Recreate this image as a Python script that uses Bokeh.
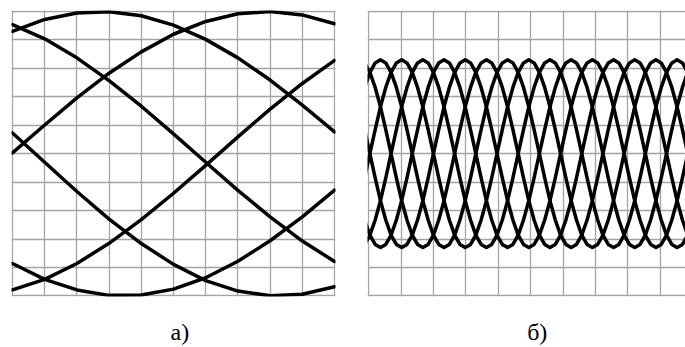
from bokeh.plotting import figure
from bokeh.layouts import row
from bokeh.models import FixedTicker, Grid, LinearAxis
from bokeh.embed import file_html
from bokeh.resources import INLINE

# ---------------- data ----------------
GRID_TICKS = [0, 1, 2, 3, 4, 5, 6, 7, 8, 9, 10]
PANEL_LABELS = ["а)", "б)"]
LABEL_POS = [5.2, 5.2]

# panel а): six gentle arcs, sampled at every grid column
X_A = [0, 1, 2, 3, 4, 5, 6, 7, 8, 9, 10]
A1 = [9.30, 9.72, 9.95, 9.99, 9.85, 9.52, 9.02, 8.37, 7.59, 6.71, 5.77]
A2 = [5.03, 6.01, 6.96, 7.83, 8.58, 9.20, 9.65, 9.92, 10.00, 9.88, 9.57]
A3 = [9.54, 9.04, 8.37, 7.57, 6.67, 5.70, 4.70, 3.71, 2.78, 1.93, 1.21]
A4 = [0.21, 0.58, 1.14, 1.85, 2.68, 3.61, 4.59, 5.59, 6.57, 7.47, 8.28]
A5 = [1.14, 0.58, 0.21, 0.02, 0.03, 0.24, 0.64, 1.22, 1.94, 2.78, 3.72]
A6 = [5.73, 4.70, 3.67, 2.70, 1.84, 1.11, 0.54, 0.17, 0.01, 0.06, 0.32]

# panel б): six interleaved traces, sampled along the sweep
X_B = [-0.131, 0.033, 0.197, 0.360, 0.524, 0.687, 0.851, 1.014, 1.178, 1.341,
       1.505, 1.668, 1.832, 1.995, 2.159, 2.322, 2.486, 2.649, 2.813, 2.976,
       3.140, 3.303, 3.467, 3.630, 3.794, 3.957, 4.121, 4.284, 4.448, 4.611,
       4.775, 4.938, 5.102, 5.265, 5.429, 5.592, 5.756, 5.919, 6.083, 6.246,
       6.410, 6.573, 6.737, 6.900, 7.064, 7.227, 7.391, 7.554, 7.718, 7.881,
       8.045, 8.208, 8.372, 8.535, 8.699, 8.862, 9.026, 9.189, 9.353, 9.516,
       9.680, 9.843]

B1 = [7.33, 7.86, 8.19,
      8.30, 8.19, 7.86, 7.33, 6.65, 5.85, 5.00, 4.15, 3.35, 2.67, 2.14, 1.81,
      1.70, 1.81, 2.14, 2.67, 3.35, 4.15, 5.00, 5.85, 6.65, 7.33, 7.86, 8.19,
      8.30, 8.19, 7.86, 7.33, 6.65, 5.85, 5.00, 4.15, 3.35, 2.67, 2.14, 1.81,
      1.70, 1.81, 2.14, 2.67, 3.35, 4.15, 5.00, 5.85, 6.65, 7.33, 7.86, 8.19,
      8.30, 8.19, 7.86, 7.33, 6.65, 5.85, 5.00, 4.15, 3.35, 2.67, 2.14]
B2 = [4.15, 5.00, 5.85, 6.65, 7.33, 7.86, 8.19,
      8.30, 8.19, 7.86, 7.33, 6.65, 5.85, 5.00, 4.15, 3.35, 2.67, 2.14, 1.81,
      1.70, 1.81, 2.14, 2.67, 3.35, 4.15, 5.00, 5.85, 6.65, 7.33, 7.86, 8.19,
      8.30, 8.19, 7.86, 7.33, 6.65, 5.85, 5.00, 4.15, 3.35, 2.67, 2.14, 1.81,
      1.70, 1.81, 2.14, 2.67, 3.35, 4.15, 5.00, 5.85, 6.65, 7.33, 7.86, 8.19,
      8.30, 8.19, 7.86, 7.33, 6.65, 5.85, 5.00]
B3 = [1.81, 2.14, 2.67, 3.35, 4.15, 5.00, 5.85, 6.65, 7.33, 7.86, 8.19,
      8.30, 8.19, 7.86, 7.33, 6.65, 5.85, 5.00, 4.15, 3.35, 2.67, 2.14, 1.81,
      1.70, 1.81, 2.14, 2.67, 3.35, 4.15, 5.00, 5.85, 6.65, 7.33, 7.86, 8.19,
      8.30, 8.19, 7.86, 7.33, 6.65, 5.85, 5.00, 4.15, 3.35, 2.67, 2.14, 1.81,
      1.70, 1.81, 2.14, 2.67, 3.35, 4.15, 5.00, 5.85, 6.65, 7.33, 7.86, 8.19,
      8.30, 8.19, 7.86]
B4 = [2.67, 2.14, 1.81, 1.70, 1.81, 2.14, 2.67, 3.35, 4.15, 5.00, 5.85, 6.65,
      7.33, 7.86, 8.19,
      8.30, 8.19, 7.86, 7.33, 6.65, 5.85, 5.00, 4.15, 3.35, 2.67, 2.14, 1.81,
      1.70, 1.81, 2.14, 2.67, 3.35, 4.15, 5.00, 5.85, 6.65, 7.33, 7.86, 8.19,
      8.30, 8.19, 7.86, 7.33, 6.65, 5.85, 5.00, 4.15, 3.35, 2.67, 2.14, 1.81,
      1.70, 1.81, 2.14, 2.67, 3.35, 4.15, 5.00, 5.85, 6.65, 7.33, 7.86]
B5 = [5.85, 5.00, 4.15, 3.35, 2.67, 2.14, 1.81, 1.70, 1.81, 2.14, 2.67, 3.35,
      4.15, 5.00, 5.85, 6.65, 7.33, 7.86, 8.19,
      8.30, 8.19, 7.86, 7.33, 6.65, 5.85, 5.00, 4.15, 3.35, 2.67, 2.14, 1.81,
      1.70, 1.81, 2.14, 2.67, 3.35, 4.15, 5.00, 5.85, 6.65, 7.33, 7.86, 8.19,
      8.30, 8.19, 7.86, 7.33, 6.65, 5.85, 5.00, 4.15, 3.35, 2.67, 2.14, 1.81,
      1.70, 1.81, 2.14, 2.67, 3.35, 4.15, 5.00]
B6 = [8.19, 7.86, 7.33, 6.65, 5.85, 5.00, 4.15, 3.35, 2.67, 2.14, 1.81, 1.70,
      1.81, 2.14, 2.67, 3.35, 4.15, 5.00, 5.85, 6.65, 7.33, 7.86, 8.19,
      8.30, 8.19, 7.86, 7.33, 6.65, 5.85, 5.00, 4.15, 3.35, 2.67, 2.14, 1.81,
      1.70, 1.81, 2.14, 2.67, 3.35, 4.15, 5.00, 5.85, 6.65, 7.33, 7.86, 8.19,
      8.30, 8.19, 7.86, 7.33, 6.65, 5.85, 5.00, 4.15, 3.35, 2.67, 2.14, 1.81,
      1.70, 1.81, 2.14]

GRID_COLOR = "#a3a3a3"
CURVE_COLOR = "#000000"
HEIGHT = 347
FRAME_TOP = 10
FRAME_H = 287


def make_panel(width, border_left, frame_w, x_start, x_end, label, label_x):
    p = figure(width=width, height=HEIGHT,
               x_range=(x_start, x_end), y_range=(-0.02, 10.035),
               x_axis_location=None, y_axis_location=None,
               toolbar_location=None, output_backend="svg",
               min_border_left=border_left,
               min_border_right=width - border_left - frame_w,
               min_border_top=FRAME_TOP,
               min_border_bottom=HEIGHT - FRAME_TOP - FRAME_H)
    p.outline_line_color = None
    p.background_fill_color = "white"
    p.border_fill_color = "white"
    p.grid.visible = False
    for dim in (0, 1):
        g = Grid(dimension=dim, ticker=FixedTicker(ticks=GRID_TICKS),
                 grid_line_color=GRID_COLOR, grid_line_width=1.3)
        p.add_layout(g, "center")
    ax = LinearAxis(ticker=FixedTicker(ticks=[label_x]),
                    major_label_overrides={label_x: label},
                    axis_line_color=None, major_tick_line_color=None,
                    minor_tick_line_color=None,
                    major_tick_in=0, major_tick_out=0,
                    major_label_standoff=22,
                    major_label_text_font="Liberation Serif",
                    major_label_text_font_size="24px",
                    major_label_text_color="black")
    p.add_layout(ax, "below")
    return p


# panel а)
pa = make_panel(355, 11, 324, -0.03, 10.03, PANEL_LABELS[0], LABEL_POS[0])
for ys in (A1, A2, A3, A4, A5, A6):
    pa.line(X_A, ys, line_color=CURVE_COLOR, line_width=3.5,
            line_join="round", line_cap="round")

# panel б)
pb = make_panel(330, 12, 318, -0.04, 9.775, PANEL_LABELS[1], LABEL_POS[1])
for ys in (B1, B2, B3, B4, B5, B6):
    pb.line(X_B, ys, line_color=CURVE_COLOR, line_width=3.5,
            line_join="round", line_cap="round")

layout = row(pa, pb, spacing=0)

open("out.html", "w").write(file_html(layout, INLINE))
